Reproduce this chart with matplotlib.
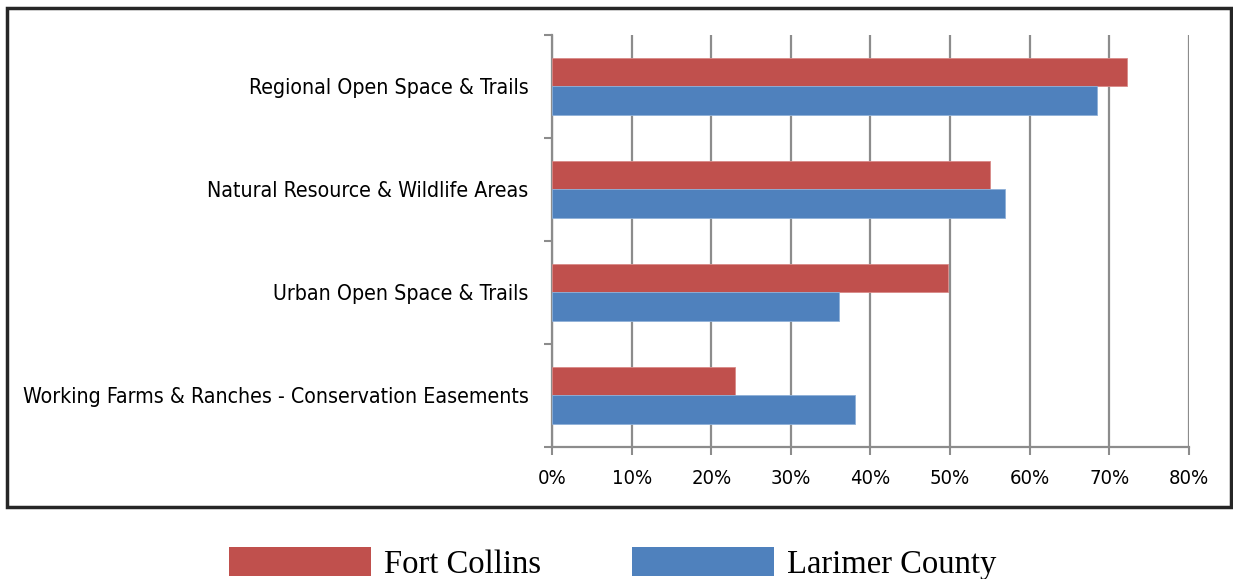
import matplotlib.pyplot as plt
from matplotlib.patches import Patch, Rectangle
import numpy as np

categories = ["Regional Open Space & Trails",
              "Natural Resource & Wildlife Areas",
              "Urban Open Space & Trails",
              "Working Farms & Ranches - Conservation Easements"]
fort_collins = [72.2, 55.0, 49.7, 23.0]
larimer_county = [68.4, 56.9, 36.0, 38.0]
xticks = [0, 10, 20, 30, 40, 50, 60, 70, 80]

red = "#C0504D"
blue = "#4F81BD"
grid = "#8C8C8C"

fig = plt.figure(figsize=(12.33, 5.79), dpi=100)
ax = fig.add_axes([0.4477, 0.228, 0.5166, 0.7116])

y = np.arange(len(categories))[::-1].astype(float)
h = 0.28
ax.barh(y + h / 2, fort_collins, height=h, color=red, edgecolor="#D98A88", linewidth=0.6, zorder=3)
ax.barh(y - h / 2, larimer_county, height=h, color=blue, edgecolor="#8FB0D8", linewidth=0.6, zorder=3)

ax.set_xlim(0, 80)
ax.set_ylim(-0.5, len(categories) - 0.5)
ax.set_xticks(xticks)
ax.set_xticklabels([f"{v}%" for v in xticks], fontsize=14.5, family="DejaVu Sans", stretch="condensed")
ax.set_yticks(y)
ax.set_yticklabels(categories, fontsize=15.3, family="DejaVu Sans", stretch="condensed")
ax.set_yticks(np.arange(-0.5, len(categories), 1.0), minor=True)
ax.tick_params(axis="y", which="major", length=0, pad=17)
ax.tick_params(axis="y", which="minor", length=6, width=1.5, color=grid, direction="out")
ax.tick_params(axis="x", length=6, width=1.5, color=grid, pad=10)

ax.grid(axis="x", color=grid, linewidth=1.6, zorder=0)
for s in ["top", "right"]:
    ax.spines[s].set_visible(False)
for s in ["left", "bottom"]:
    ax.spines[s].set_color(grid)
    ax.spines[s].set_linewidth(1.6)

# outer frame
fig.add_artist(Rectangle((0.0057, 0.1244), 0.9927, 0.862, transform=fig.transFigure,
                         fill=False, edgecolor="#262626", linewidth=2.5))

handles = [Patch(facecolor=red, label="Fort Collins"),
           Patch(facecolor=blue, label="Larimer County")]
fig.legend(handles=handles, loc="center", bbox_to_anchor=(0.4968, 0.027), ncol=2, frameon=False,
           prop={"family": "Liberation Serif", "size": 23.5},
           handlelength=4.35, handleheight=0.98, handletextpad=0.4, columnspacing=2.8)

fig.savefig("out.png", dpi=100)
